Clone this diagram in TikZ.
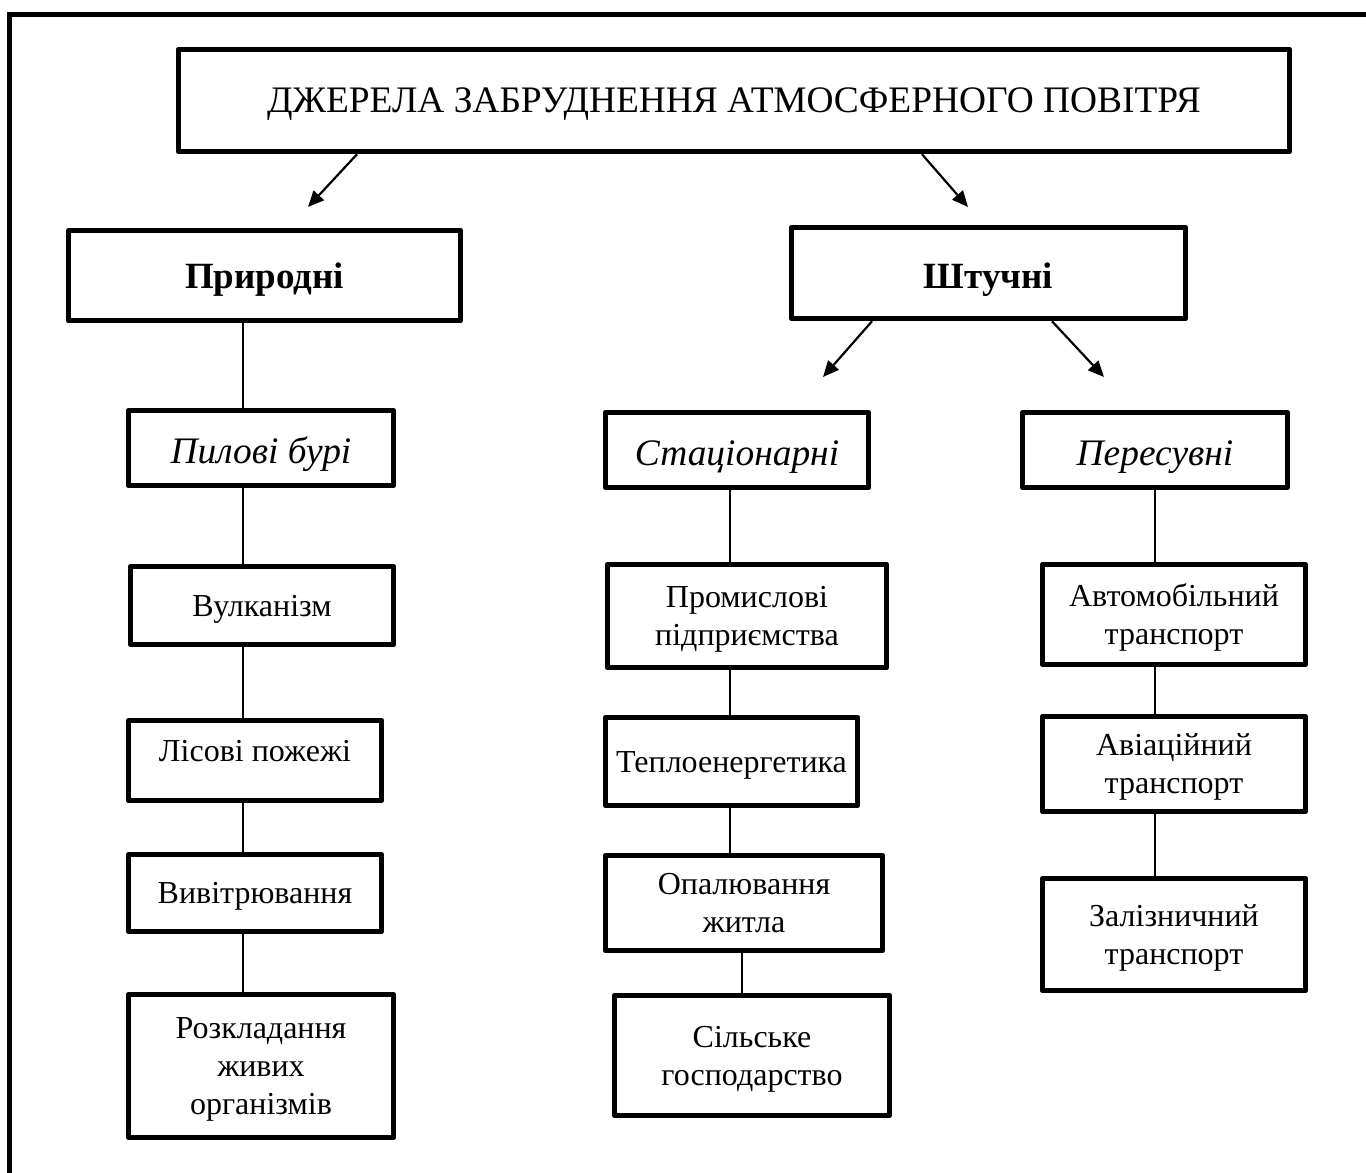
\documentclass[tikz,border=0pt]{standalone}
\usepackage{fontspec}
\setmainfont{Liberation Serif}
\usetikzlibrary{arrows.meta}
% text block lowered by #1 from the node centre, with no height of its own
\newcommand\boxtext[2]{\raisebox{-#1}[0pt][0pt]{\begin{tabular}[c]{@{}c@{}}#2\end{tabular}}}
\begin{document}
\begin{tikzpicture}[x=0.5pt,y=-0.5pt,
  box/.style={draw, line width=2.75pt, line join=round, inner sep=2pt, fill=white},
  body/.style={box, font=\fontsize{16}{19}\selectfont},
  headb/.style={box, font=\fontsize{18.5}{22}\selectfont\bfseries},
  headi/.style={box, font=\fontsize{18.7}{22}\selectfont\itshape},
  conn/.style={line width=1pt},
  arr/.style={line width=1.1pt, -{Triangle[length=8pt,width=7pt]}}]
\useasboundingbox (0,0) rectangle (1366,1173);
\fill[white] (0,0) rectangle (1366,1173);
% outer frame (left and top)
\draw[line width=2.5pt, line join=miter] (9.5,1173) -- (9.5,14.5) -- (1366,14.5);
% nodes
\node[box, minimum width=555.5pt, minimum height=51pt, font=\fontsize{18.7}{22}\selectfont] (title) at (734,100.5) {\boxtext{5.8pt}{ДЖЕРЕЛА ЗАБРУДНЕННЯ АТМОСФЕРНОГО ПОВІТРЯ}};
\node[headb, minimum width=196pt, minimum height=45pt] (prir) at (264.5,275.5) {\boxtext{6.5pt}{Природні}};
\node[headb, minimum width=197pt, minimum height=45.5pt] (sht) at (988.5,273) {\boxtext{7.5pt}{Штучні}};
% left column
\node[headi, minimum width=132.5pt, minimum height=37.5pt] (pyl) at (261,448) {\boxtext{7.5pt}{Пилові бурі}};
\node[body, minimum width=131.5pt, minimum height=39pt] (vulk) at (262,605.5) {\boxtext{6pt}{Вулканізм}};
\node[body, minimum width=126.5pt, minimum height=40pt] (lis) at (255,760.5) {\boxtext{0.8pt}{Лісові пожежі}};
\node[body, minimum width=126.5pt, minimum height=38.5pt] (vyv) at (255,893) {\boxtext{6pt}{Вивітрювання}};
\node[body, minimum width=132.5pt, minimum height=71.5pt] (rozk) at (261,1066) {\boxtext{6pt}{Розкладання\\живих\\організмів}};
% middle column
\node[headi, minimum width=131.5pt, minimum height=37.5pt] (stac) at (737,450) {\boxtext{7.5pt}{Стаціонарні}};
\node[body, minimum width=139.5pt, minimum height=51.5pt] (prom) at (747,616) {\boxtext{5.8pt}{Промислові\\підприємства}};
\node[body, minimum width=126pt, minimum height=44pt] (tepl) at (731.5,761.5) {\boxtext{6pt}{Теплоенергетика}};
\node[body, minimum width=138.5pt, minimum height=47.5pt] (opal) at (744,903) {\boxtext{5.8pt}{Опалювання\\житла}};
\node[body, minimum width=137.5pt, minimum height=60pt] (silsk) at (752,1055.5) {\boxtext{5.8pt}{Сільське\\господарство}};
% right column
\node[headi, minimum width=132.5pt, minimum height=37.5pt] (peres) at (1155,450) {\boxtext{7.5pt}{Пересувні}};
\node[body, minimum width=131.5pt, minimum height=50pt] (avto) at (1174,614.5) {\boxtext{5.8pt}{Автомобільний\\транспорт}};
\node[body, minimum width=131.5pt, minimum height=47.5pt] (avia) at (1174,764) {\boxtext{5.8pt}{Авіаційний\\транспорт}};
\node[body, minimum width=131.5pt, minimum height=56pt] (zal) at (1174,934.5) {\boxtext{5.8pt}{Залізничний\\транспорт}};
% coordinates for connectors
\coordinate (cL) at (243,0);
\coordinate (cM) at (730,0);
\coordinate (cM2) at (742,0);
\coordinate (cR) at (1155,0);
\coordinate (a1s) at (357,0);
\coordinate (a2s) at (922,0);
\coordinate (a1e) at (308,207);
\coordinate (a2e) at (968,207);
\coordinate (b1s) at (872,0);
\coordinate (b2s) at (1052,0);
\coordinate (b1e) at (823,377);
\coordinate (b2e) at (1104,377);
% arrows
\draw[arr] (title.south -| a1s) -- (a1e);
\draw[arr] (title.south -| a2s) -- (a2e);
\draw[arr] (sht.south -| b1s) -- (b1e);
\draw[arr] (sht.south -| b2s) -- (b2e);
% left connectors
\draw[conn] (prir.south -| cL) -- (pyl.north -| cL);
\draw[conn] (pyl.south -| cL) -- (vulk.north -| cL);
\draw[conn] (vulk.south -| cL) -- (lis.north -| cL);
\draw[conn] (lis.south -| cL) -- (vyv.north -| cL);
\draw[conn] (vyv.south -| cL) -- (rozk.north -| cL);
% middle connectors
\draw[conn] (stac.south -| cM) -- (prom.north -| cM);
\draw[conn] (prom.south -| cM) -- (tepl.north -| cM);
\draw[conn] (tepl.south -| cM) -- (opal.north -| cM);
\draw[conn] (opal.south -| cM2) -- (silsk.north -| cM2);
% right connectors
\draw[conn] (peres.south -| cR) -- (avto.north -| cR);
\draw[conn] (avto.south -| cR) -- (avia.north -| cR);
\draw[conn] (avia.south -| cR) -- (zal.north -| cR);
\end{tikzpicture}
\end{document}
